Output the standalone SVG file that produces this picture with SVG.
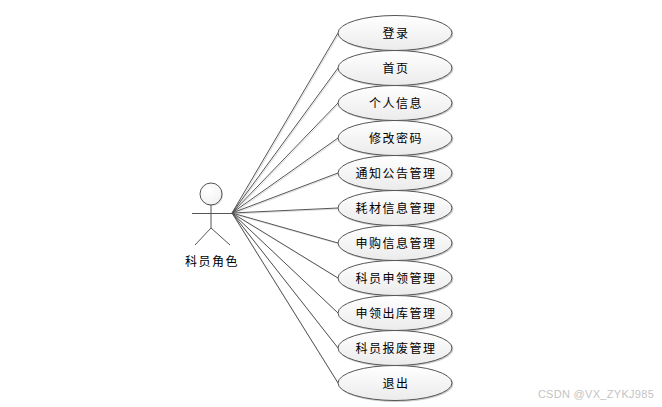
<svg xmlns="http://www.w3.org/2000/svg" width="662" height="407" viewBox="0 0 662 407">
<style>
text{font-family:"Noto Sans CJK SC","Liberation Sans",sans-serif;font-size:12px;fill:#000;text-anchor:middle;letter-spacing:1.5px}
.u{fill:url(#g);stroke:#555;stroke-width:1}
.s{fill:#ccc;stroke:#ccc;stroke-width:1}
.c line{stroke:#555;stroke-width:1}
.cs line{stroke:#ddd;stroke-width:1}
.a{fill:none;stroke:#555;stroke-width:1}
</style>
<defs>
<linearGradient id="g" x1="0" y1="0" x2="0" y2="1"><stop offset="0" stop-color="#ffffff"/><stop offset="1" stop-color="#ebebeb"/></linearGradient>
<radialGradient id="h" cx="0.4" cy="0.3" r="0.8"><stop offset="0" stop-color="#ffffff"/><stop offset="1" stop-color="#f0f0f0"/></radialGradient>
<ellipse id="sh" cx="396" cy="0" rx="57" ry="17.5" class="s"/>
<ellipse id="el" cx="395" cy="0" rx="57" ry="17.5" class="u"/>
</defs>
<rect width="662" height="407" fill="#fff"/>
<g class="cs" transform="translate(1,1)">
<line x1="232" y1="213" x2="338" y2="33"/><line x1="232" y1="213" x2="338" y2="68"/><line x1="232" y1="213" x2="338" y2="103"/><line x1="232" y1="213" x2="338" y2="138"/><line x1="232" y1="213" x2="338" y2="173"/><line x1="232" y1="213" x2="338" y2="208"/><line x1="232" y1="213" x2="338" y2="243"/><line x1="232" y1="213" x2="338" y2="278"/><line x1="232" y1="213" x2="338" y2="313"/><line x1="232" y1="213" x2="338" y2="348"/><line x1="232" y1="213" x2="338" y2="383"/>
</g>
<g id="connectors" class="c">
<line x1="232" y1="213" x2="338" y2="33"/><line x1="232" y1="213" x2="338" y2="68"/><line x1="232" y1="213" x2="338" y2="103"/><line x1="232" y1="213" x2="338" y2="138"/><line x1="232" y1="213" x2="338" y2="173"/><line x1="232" y1="213" x2="338" y2="208"/><line x1="232" y1="213" x2="338" y2="243"/><line x1="232" y1="213" x2="338" y2="278"/><line x1="232" y1="213" x2="338" y2="313"/><line x1="232" y1="213" x2="338" y2="348"/><line x1="232" y1="213" x2="338" y2="383"/>
</g>
<g id="actor">
<circle cx="212" cy="195" r="11" fill="#ddd"/>
<circle cx="211" cy="194" r="11" fill="url(#h)" stroke="#555"/>
<path class="a" d="M211 205V228M192 213.500H232M211 228L195 245M211 228L230 245"/>
<text x="212" y="266">科员角色</text>
</g>
<g id="uc1"><use href="#sh" y="34"/><use href="#el" y="33"/><text x="396" y="38">登录</text></g>
<g id="uc2"><use href="#sh" y="69"/><use href="#el" y="68"/><text x="396" y="73">首页</text></g>
<g id="uc3"><use href="#sh" y="104"/><use href="#el" y="103"/><text x="396" y="108">个人信息</text></g>
<g id="uc4"><use href="#sh" y="139"/><use href="#el" y="138"/><text x="396" y="143">修改密码</text></g>
<g id="uc5"><use href="#sh" y="174"/><use href="#el" y="173"/><text x="396" y="178">通知公告管理</text></g>
<g id="uc6"><use href="#sh" y="209"/><use href="#el" y="208"/><text x="396" y="213">耗材信息管理</text></g>
<g id="uc7"><use href="#sh" y="244"/><use href="#el" y="243"/><text x="396" y="248">申购信息管理</text></g>
<g id="uc8"><use href="#sh" y="279"/><use href="#el" y="278"/><text x="396" y="283">科员申领管理</text></g>
<g id="uc9"><use href="#sh" y="314"/><use href="#el" y="313"/><text x="396" y="318">申领出库管理</text></g>
<g id="uc10"><use href="#sh" y="349"/><use href="#el" y="348"/><text x="396" y="353">科员报废管理</text></g>
<g id="uc11"><use href="#sh" y="384"/><use href="#el" y="383"/><text x="396" y="388">退出</text></g>
<text x="596" y="398" style="font-family:'Liberation Sans',sans-serif;font-size:11px;fill:#c4c4c4;letter-spacing:0.3px">CSDN @VX_ZYKJ985</text>
</svg>
